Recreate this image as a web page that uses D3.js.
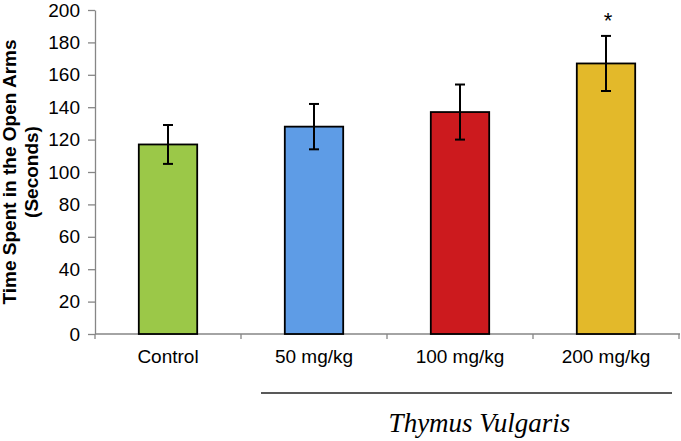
<!DOCTYPE html>
<html>
<head>
<meta charset="utf-8">
<script src="https://cdn.jsdelivr.net/npm/d3@7"></script>
<style>
  html, body { margin: 0; padding: 0; background: #fff; }
  svg { display: block; }
</style>
</head>
<body>
<svg id="chart" width="681" height="441"></svg>
<script>
const categories = ["Control", "50 mg/kg", "100 mg/kg", "200 mg/kg"];
const means = [117, 128, 137, 167];
const errors = [12, 14, 17, 17];
const colors = ["#9BC848", "#5E9CE6", "#CC1A1E", "#E3B92A"];
const significance = ["", "", "", "*"];
const yTicks = [0, 20, 40, 60, 80, 100, 120, 140, 160, 180, 200];
const yLabelLines = ["Time Spent in the Open Arms", "(Seconds)"];
const groupLabel = "Thymus Vulgaris";

(function () {
const svg = d3.select("#chart");
const mLeft = 95, mRight = 679, mTop = 10, mBottom = 334;

const x = d3.scaleBand().domain(categories).range([mLeft, mRight]).paddingInner(0.6).paddingOuter(0.3);
const y = d3.scaleLinear().domain([0, 200]).range([mBottom, mTop]);

const axisColor = "#868686";
const font = "'Liberation Sans', Arial, sans-serif";

// Y axis
const yAxis = svg.append("g").attr("transform", `translate(${mLeft},0)`)
  .call(d3.axisLeft(y).tickValues(yTicks).tickSize(7).tickPadding(8).tickSizeOuter(0));
yAxis.select(".domain").attr("stroke", axisColor).attr("stroke-width", 1.3);
yAxis.selectAll(".tick line").attr("stroke", axisColor).attr("stroke-width", 1.3);
yAxis.selectAll(".tick text").attr("font-family", font).attr("font-size", 19).attr("fill", "#000");

// X axis baseline
svg.append("line").attr("x1", mLeft).attr("x2", mRight + 1).attr("y1", mBottom).attr("y2", mBottom)
  .attr("stroke", axisColor).attr("stroke-width", 1.3);
// category separator ticks
const bounds = d3.range(categories.length + 1).map(i => mLeft + i * x.step());
svg.selectAll(".xtick").data(bounds).join("line")
  .attr("x1", d => d).attr("x2", d => d).attr("y1", mBottom).attr("y2", mBottom + 5)
  .attr("stroke", axisColor).attr("stroke-width", 1.3);
// category labels
svg.selectAll(".xlab").data(categories).join("text")
  .attr("x", d => x(d) + x.bandwidth() / 2).attr("y", 363)
  .attr("text-anchor", "middle").attr("font-family", font).attr("font-size", 19)
  .text(d => d);

// Bars
svg.selectAll(".bar").data(categories).join("rect")
  .attr("x", d => x(d)).attr("width", x.bandwidth())
  .attr("y", (d, i) => y(means[i])).attr("height", (d, i) => y(0) - y(means[i]))
  .attr("fill", (d, i) => colors[i]).attr("stroke", "#000").attr("stroke-width", 1.8);

// Error bars
const eb = svg.selectAll(".eb").data(categories).join("g");
eb.append("line")
  .attr("x1", d => x(d) + x.bandwidth() / 2).attr("x2", d => x(d) + x.bandwidth() / 2)
  .attr("y1", (d, i) => y(means[i] + errors[i])).attr("y2", (d, i) => y(means[i] - errors[i]))
  .attr("stroke", "#000").attr("stroke-width", 2);
[1, -1].forEach(s => {
  eb.append("line")
    .attr("x1", d => x(d) + x.bandwidth() / 2 - 5).attr("x2", d => x(d) + x.bandwidth() / 2 + 5)
    .attr("y1", (d, i) => y(means[i] + s * errors[i])).attr("y2", (d, i) => y(means[i] + s * errors[i]))
    .attr("stroke", "#000").attr("stroke-width", 2);
});
// significance marks
svg.selectAll(".sig").data(categories).join("text")
  .attr("x", d => x(d) + x.bandwidth() / 2 + 2)
  .attr("y", (d, i) => y(means[i] + errors[i]) - 8)
  .attr("text-anchor", "middle").attr("font-family", font).attr("font-size", 22)
  .text((d, i) => significance[i]);

// Y label
const yl = svg.append("text").attr("transform", "translate(0,172) rotate(-90)")
  .attr("text-anchor", "middle").attr("font-family", font).attr("font-size", 19).attr("font-weight", "bold");
yl.selectAll("tspan").data(yLabelLines).join("tspan")
  .attr("x", 0).attr("y", (d, i) => 16 + i * 21.5).text(d => d);

// Group bracket + label
svg.append("line").attr("x1", x(categories[1]) - (x.step() - x.bandwidth()) / 2 + 20).attr("x2", 672)
  .attr("y1", 393).attr("y2", 393).attr("stroke", "#222").attr("stroke-width", 1.4);
svg.append("text").attr("x", 479.5).attr("y", 432).attr("text-anchor", "middle")
  .attr("font-family", "'Liberation Serif', 'Times New Roman', serif").attr("font-style", "italic")
  .attr("font-size", 27).text(groupLabel);
})();
</script>
</body>
</html>
